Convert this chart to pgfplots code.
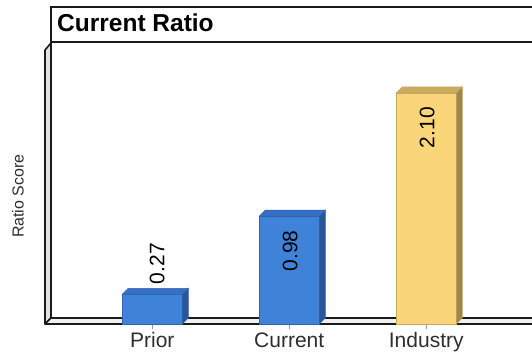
\documentclass[border=0pt]{standalone}
\usepackage{fontspec}
\setmainfont{Liberation Sans}
\usepackage{pgfplots}
\pgfplotsset{compat=1.18}

\definecolor{blueFront}{HTML}{3F83D9}
\definecolor{blueEdge}{HTML}{2E63AE}
\definecolor{blueSide}{HTML}{2B5597}
\definecolor{blueTop}{HTML}{3670C2}
\definecolor{goldFront}{HTML}{FAD57A}
\definecolor{goldEdge}{HTML}{C7A65A}
\definecolor{goldSide}{HTML}{9E854A}
\definecolor{goldTop}{HTML}{CBAA62}
\definecolor{wallFill}{HTML}{E2E2E2}
\definecolor{floorFill}{HTML}{F0F0F0}
\definecolor{frameLine}{HTML}{1A1A1A}
\definecolor{labelGray}{HTML}{2E2E2E}

% ratio values
\def\priorRatio{0.27}
\def\currentRatio{0.98}
\def\industryRatio{2.10}

% side and top faces of a bar 60pt wide with 6pt depth
% #1 x position, #2 value, #3 side colour, #4 top colour, #5 edge colour
\newcommand\barDepth[5]{%
  \filldraw[fill=#3, draw=#5, line width=0.5pt]
    ([xshift=30pt]axis cs:#1,0) -- ([xshift=36pt,yshift=6pt]axis cs:#1,0)
    -- ([xshift=36pt,yshift=6pt]axis cs:#1,#2) -- ([xshift=30pt]axis cs:#1,#2) -- cycle;
  \filldraw[fill=#4, draw=#5, line width=0.5pt]
    ([xshift=-30pt]axis cs:#1,#2) -- ([xshift=-24pt,yshift=6pt]axis cs:#1,#2)
    -- ([xshift=36pt,yshift=6pt]axis cs:#1,#2) -- ([xshift=30pt]axis cs:#1,#2) -- cycle;
}

\pgfplotsset{
  /pgf/number format/assume math mode=true,
  frontbar/.style={ybar, bar width=60pt, bar shift=0pt, line width=0.5pt,
    nodes near coords={\pgfmathprintnumber[fixed,fixed zerofill,precision=2]{\pgfplotspointmeta}},
    every node near coord/.append style={font=\fontsize{21}{24}\selectfont, text=black, inner sep=0pt}},
  labelinside/.style={every node near coord/.append style={yshift=-14pt, xshift=1pt, rotate=90, anchor=east}},
  labelabove/.style={every node near coord/.append style={yshift=10pt, xshift=5pt, rotate=90, anchor=west}},
}

\begin{document}
\begin{tikzpicture}[x=1pt, y=1pt]
  \useasboundingbox (0,0) rectangle (532,356);

  % left wall
  \filldraw[fill=wallFill, draw=frameLine, line width=1.6pt, line join=round]
    (45,32) -- (45,306) -- (51,313) -- (51,38) -- cycle;
  % floor
  \filldraw[fill=floorFill, draw=frameLine, line width=1.6pt, line join=round]
    (45,32) -- (545,32) -- (545,38) -- (51,38) -- cycle;
  % title box
  \draw[frameLine, line width=1.8pt] (545,349) -- (51,349) -- (51,314) -- (545,314);
  \node[anchor=base west, inner sep=0pt, font=\fontsize{24.5}{28}\selectfont\bfseries, text=black]
    at (57,324) {Current Ratio};

  \begin{axis}[
    at={(45pt,32pt)}, anchor=south west,
    scale only axis, width=487pt, height=275pt,
    xmin=-0.783, xmax=2.772, ymin=0, ymax=2.5,
    clip=false,
    axis line style={draw=none},
    ytick=\empty,
    xtick={0,1,2}, xticklabels={Prior,Current,Industry},
    xtick pos=bottom, tick align=outside, major tick length=5pt,
    x tick style={draw=gray!80, line width=0.6pt},
    xticklabel style={font=\fontsize{21}{24}\selectfont, text=labelGray, inner sep=0pt,
      text height=15.5pt, text depth=4.5pt, anchor=north, yshift=-3pt},
    ylabel={Ratio Score},
    ylabel style={at={(axis description cs:-0.0554,0.465)}, anchor=center,
      font=\fontsize{16}{18}\selectfont, text=labelGray, inner sep=0pt},
  ]
    \addplot[frontbar, labelabove, fill=blueFront, draw=blueEdge] coordinates {(0,\priorRatio)};
    \addplot[frontbar, labelinside, fill=blueFront, draw=blueEdge] coordinates {(1,\currentRatio)};
    \addplot[frontbar, labelinside, fill=goldFront, draw=goldEdge] coordinates {(2,\industryRatio)};

    \barDepth{0}{\priorRatio}{blueSide}{blueTop}{blueEdge}
    \barDepth{1}{\currentRatio}{blueSide}{blueTop}{blueEdge}
    \barDepth{2}{\industryRatio}{goldSide}{goldTop}{goldEdge}
  \end{axis}
\end{tikzpicture}
\end{document}
